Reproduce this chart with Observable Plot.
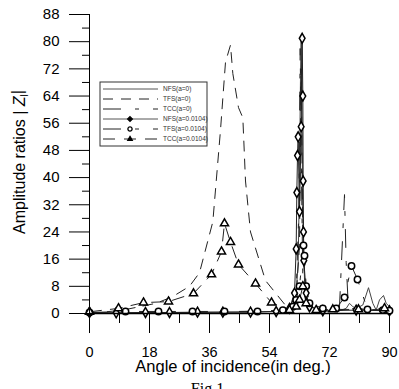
<!DOCTYPE html>
<html><head><meta charset="utf-8">
<script src="https://cdn.jsdelivr.net/npm/d3@7"></script>
<script src="https://cdn.jsdelivr.net/npm/@observablehq/plot@0.6"></script>
<style>body{margin:0;background:#fff}svg{display:block}</style>
</head><body><div id="chart"></div>
<script>
// Series: [angle (deg), amplitude ratio]
const nfs0 = [[0,0],[10,0.1],[20,0.2],[30,0.3],[40,0.4],[50,0.5],[55,0.6],[58,0.8],[60,1.2],[61,2.5],[62,6],[62.6,15],[63,40],[63.3,70],[63.5,80],[63.7,60],[64,30],[64.5,10],[65,5],[66,2.5],[68,1.2],[70,0.8],[72,0.6],[75,0.8],[77,1.5],[78,3],[79,2],[80,1.5],[82,2.5],[83.7,7.6],[85,3],[86,1],[87,4],[88.2,5.3],[89,3],[90,2]];
const tfs0 = [[0,0],[5,0.5],[10,1],[15,2],[20,3],[25,5],[30,8],[33,12],[37,27],[39.3,54],[40.8,74],[42.3,79],[43,70.6],[44.7,60.6],[46,57.6],[46.8,39],[48.3,24],[52.8,9.7],[58.8,2.4],[61,2],[62,5],[63,20],[63.5,72],[64,20],[65,3],[70,1],[75,1],[80,1.5],[85,1],[90,1]];
const tcc0 = [[0,0],[20,0.2],[40,0.5],[55,0.8],[60,1.5],[62,6],[62.8,30],[63.2,78],[63.6,40],[64,10],[65,3],[68,1],[72,0.8],[75,2],[76.5,35],[77,15],[77.5,5],[79,1.5],[82,1],[90,1]];
const nfs1 = [[0,0.3],[8,0.2],[16.8,0.3],[24,0.3],[32.4,0.4],[40,0.4],[48.3,0.4],[56,0.6],[60,1.5],[61.5,6],[62,19],[62.2,35.6],[62.4,46.5],[62.6,52],[63,30],[63.5,55],[63.8,81],[64,64],[64.1,39],[64.2,24],[64.3,15.6],[65,6],[66,2],[70,0.8],[80,1],[90,0.8]];
const tfs1 = [[0,0.3],[10.8,0.6],[20.7,0.6],[30.9,0.6],[40.5,0.6],[50.4,0.6],[58,1],[61,2],[62,4],[63,8],[64.2,20],[64.5,17],[65,8],[66,3],[70,1.5],[74,1.5],[76.5,4.7],[78.6,14],[80.4,10],[83.4,1.2],[88,1],[90,0.8]];
const tcc1 = [[0,0.5],[8.7,1.5],[16.2,3.2],[23.7,3.5],[31.2,5.9],[36.6,11.5],[39.6,18.2],[40.5,26.5],[42.3,21],[44.7,14.4],[49.8,8.8],[54.6,3.2],[60,1],[62,2],[63,4],[64,8],[65,3],[68,1],[73,1.2],[80.7,1.2],[88.5,1.5]];

const yTicks = [0,8,16,24,32,40,48,56,64,72,80,88];
const yMinor = [4,12,20,28,36,44,52,60,68,76,84];
const xTicks = [0,18,36,54,72,90];
const xMinor = [9,27,45,63,81];
const legendLabels = ["NFS(a=0)","TFS(a=0)","TCC(a=0)","NFS(a=0.0104)","TFS(a=0.0104)","TCC(a=0.0104)"];

const styles = [
  {dash:null, stroke:"#444", sym:null},
  {dash:"10,8", stroke:"#222", sym:null},
  {dash:"18,14,4,14", stroke:"#222", sym:null},
  {dash:null, stroke:"#222", sym:"diamond"},
  {dash:"18,14,4,14", stroke:"#222", sym:"circle"},
  {dash:"12,9", stroke:"#222", sym:"triangle"}
];
const series = [nfs0, tfs0, tcc0, nfs1, tfs1, tcc1];

const marks = [];
series.forEach((s, i) => {
  const st = styles[i];
  marks.push(Plot.line(s, {x: d => d[0], y: d => d[1], stroke: st.stroke, strokeWidth: 1, strokeDasharray: st.dash}));
});
series.forEach((s, i) => {
  const st = styles[i];
  if (st.sym) marks.push(Plot.dot(s, {x: d => d[0], y: d => d[1], symbol: st.sym, r: st.sym === "circle" ? 3.2 : 3, stroke: "#000", strokeWidth: 1.5, fill: "#fff"}));
});

const chart = Plot.plot({
  width: 399, height: 389,
  marginLeft: 89, marginRight: 10, marginTop: 14, marginBottom: 76,
  x: {domain: [0, 90]},
  y: {domain: [0, 88]},
  style: {fontFamily: "'Liberation Sans', Arial, sans-serif", fontSize: "15px", color: "#000", background: "#fff"},
  marks: [
    ...marks,
    Plot.ruleY([0], {stroke: "#000", strokeWidth: 1.5}),
    Plot.ruleX([0], {y1: -5.9, y2: 88, stroke: "#000", strokeWidth: 1}),
    Plot.axisY({ticks: yTicks, tickSize: 20, tickPadding: 10, label: null, fontSize: 15}),
    Plot.axisY({ticks: yMinor, tickSize: 7, tickFormat: () => "", label: null}),
    Plot.axisX({ticks: xTicks, tickSize: 20, tickPadding: 13, label: null, fontSize: 14.5}),
    Plot.axisX({ticks: xMinor, tickSize: 10, tickFormat: () => "", label: null}),
    Plot.text(["Angle of incidence(in deg.)"], {frameAnchor: "bottom", dy: 58, dx: -6.5, fontSize: 16.5, fill: "#000"}),
    Plot.text(["Amplitude ratios | Zl|"], {frameAnchor: "left", textAnchor: "middle", rotate: -90, dx: -70, dy: -2, fontSize: 16, fill: "#000"}),
    Plot.text(["Fig.1"], {frameAnchor: "bottom", lineAnchor: "top", dy: 69, dx: -32, fontSize: 16, fontFamily: "'Liberation Serif', 'Times New Roman', serif", fill: "#000"})
  ]
});
document.getElementById("chart").appendChild(chart);

// italic Z with subscript l on the y title
const svg = d3.select(chart);
svg.selectAll("text").each(function() {
  const t = d3.select(this);
  if (t.text() === "Amplitude ratios | Zl|") {
    t.text("");
    t.append("tspan").text("Amplitude ratios | ");
    t.append("tspan").attr("font-style", "italic").text("Z");
    t.append("tspan").attr("font-size", 10).attr("dy", "0.3em").text("l");
    t.append("tspan").attr("dy", "-0.3em").text("|");
  }
});

// legend box
const lg = svg.append("g").attr("class", "legend").attr("text-anchor", "start");
const bx = 100, by = 82, bw = 107, bh = 64;
lg.append("rect").attr("x", bx).attr("y", by).attr("width", bw).attr("height", bh).attr("fill", "#fff").attr("stroke", "#333").attr("stroke-width", 1);
legendLabels.forEach((lab, i) => {
  const yy = by + 7 + i * 10;
  const st = styles[i];
  lg.append("line").attr("x1", bx + 3).attr("x2", bx + 58).attr("y1", yy).attr("y2", yy)
    .attr("stroke", i === 0 || i === 3 ? "#555" : "#222").attr("stroke-width", 1)
    .attr("stroke-dasharray", st.dash);
  if (st.sym) {
    const sym = {diamond: d3.symbolDiamond2, circle: d3.symbolCircle, triangle: d3.symbolTriangle2}[st.sym];
    lg.append("path").attr("d", d3.symbol(sym, 14)()).attr("transform", `translate(${bx + 30},${yy})`)
      .attr("fill", st.sym === "circle" ? "#fff" : "#000").attr("stroke", "#000").attr("stroke-width", 1.3);
  }
  lg.append("text").attr("x", bx + 63).attr("y", yy).attr("dy", "0.35em").attr("text-anchor", "start")
    .attr("font-size", 6.5).attr("fill", "#333").attr("font-family", "'Liberation Sans', Arial, sans-serif").text(lab);
});
</script>
</body></html>
